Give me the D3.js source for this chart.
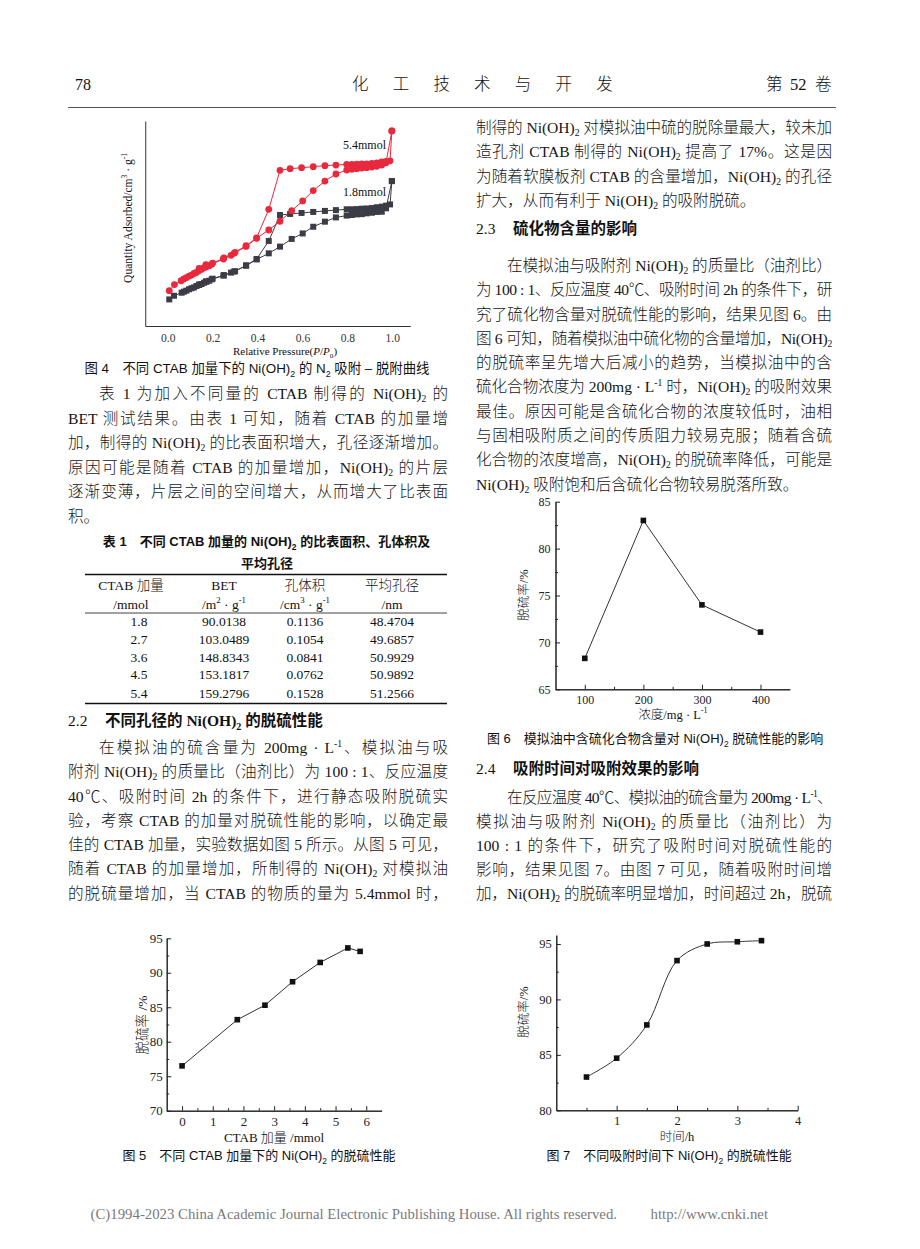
<!DOCTYPE html>
<html><head><meta charset="utf-8">
<script src="https://cdn.jsdelivr.net/npm/d3@7"></script>
<style>
html,body{margin:0;padding:0;background:#fff;}
body{width:920px;height:1249px;position:relative;overflow:hidden;}
.line{position:absolute;font-family:"Liberation Serif","Noto Sans CJK SC",serif;line-height:20px;color:#151515;white-space:nowrap;font-weight:300;}
.line sub{font-size:0.62em;vertical-align:-0.28em;line-height:0;}
.line sup{font-size:0.62em;vertical-align:0.6em;line-height:0;}
svg{position:absolute;left:0;top:0;}
</style></head><body>
<script>
// ---------------- DATA ----------------
// Fig 4: N2 adsorption-desorption isotherms (relative pressure P/P0, quantity adsorbed, arbitrary units)
const f4Ticks = [0, 0.2, 0.4, 0.6, 0.8, 1.0];
const f4RedAdsP = [0.007,0.03,0.06,0.072,0.083,0.095,0.106,0.117,0.128,0.14,0.151,0.162,0.173,0.185,0.196,0.248,0.282,0.295,0.349,0.396,0.45,0.50,0.552,0.601,0.648,0.70,0.749,0.797,0.82,0.842,0.864,0.886,0.909,0.931,0.953,0.972,0.998];
const f4RedAdsQ = [17.4,20.4,22.3,23.2,23.8,24.6,25.1,25.9,26.4,27.3,27.9,28.7,29.2,29.7,30.4,33.0,34.8,35.8,39.2,43.2,47.3,51.6,56.8,61.6,66.7,71.4,74.9,76.8,77.2,77.5,77.8,78.0,78.3,78.7,79.3,80.4,96.1];
const f4RedDesP = [0.998,0.99,0.972,0.953,0.931,0.909,0.886,0.864,0.842,0.82,0.797,0.749,0.70,0.648,0.596,0.545,0.50,0.45,0.396,0.349,0.30,0.25,0.20,0.17,0.14];
const f4RedDesQ = [96.1,81.4,81.1,80.8,80.4,80.1,79.9,79.9,79.8,79.6,79.6,79.3,79.0,78.5,78.0,77.5,76.7,57.5,43.4,39.6,36.3,33.5,31.0,30.2,28.4];
const f4BlkAdsP = [0.007,0.028,0.062,0.072,0.083,0.095,0.106,0.117,0.128,0.14,0.151,0.162,0.173,0.185,0.196,0.248,0.282,0.295,0.349,0.396,0.45,0.50,0.552,0.601,0.648,0.70,0.749,0.797,0.82,0.842,0.864,0.886,0.909,0.931,0.953,0.972,0.998];
const f4BlkAdsQ = [13.1,14.9,16.4,16.9,17.4,18.1,18.6,19.0,19.7,20.2,20.7,21.3,21.8,22.3,23.0,24.8,26.3,26.8,29.7,32.8,35.8,39.1,42.9,45.6,48.9,51.4,53.5,54.4,54.7,55.0,55.1,55.5,55.8,56.2,56.3,58.0,71.4];
const f4BlkDesP = [0.998,0.99,0.972,0.953,0.931,0.909,0.886,0.864,0.842,0.82,0.797,0.749,0.70,0.648,0.596,0.545,0.50,0.45,0.396,0.349,0.30,0.25,0.20,0.17,0.14];
const f4BlkDesQ = [71.4,59.9,59.3,58.8,58.5,58.1,57.9,57.8,57.6,57.5,57.5,57.1,56.7,56.2,55.7,55.2,54.7,41.9,33.0,29.9,27.0,25.1,23.3,22.0,20.5];
const f4SeriesNames = ["5.4mmol", "1.8mmol"];

// Fig 5: CTAB dosage vs desulfurization rate
const f5X = [0, 1.8, 2.7, 3.6, 4.5, 5.4, 5.8];
const f5Y = [76.5, 83.2, 85.3, 88.7, 91.5, 93.6, 93.1];
const f5XTicks = [0,1,2,3,4,5,6];
const f5YTicks = [70,75,80,85,90,95];

// Fig 6: sulfide concentration vs desulfurization rate
const f6X = [100, 200, 300, 400];
const f6Y = [68.3, 83.0, 74.0, 71.1];
const f6XTicks = [100,200,300,400];
const f6YTicks = [65,70,75,80,85];

// Fig 7: adsorption time vs desulfurization rate
const f7X = [0.5, 1, 1.5, 2, 2.5, 3, 3.4];
const f7Y = [83.0, 84.7, 87.7, 93.5, 95.0, 95.2, 95.3];
const f7XTicks = [1,2,3,4];
const f7YTicks = [80,85,90,95];

// Table 1
const tblHead1 = ["CTAB 加量", "BET", "孔体积", "平均孔径"];
const tblHead2 = ["/mmol", "/m^{2} · g^{-1}", "/cm^{3} · g^{-1}", "/nm"];
const tblCTAB = ["1.8","2.7","3.6","4.5","5.4"];
const tblBET  = ["90.0138","103.0489","148.8343","153.1817","159.2796"];
const tblVol  = ["0.1136","0.1054","0.0841","0.0762","0.1528"];
const tblDia  = ["48.4704","49.6857","50.9929","50.9892","51.2566"];

// ---------------- HELPERS ----------------
const SERIF = '"Liberation Serif","Noto Sans CJK SC",serif';
const SANS = '"Liberation Sans","Noto Sans CJK SC",sans-serif';
const BODY_FS = 15.6;

function rich(t, str, fs){
  const parts = str.split(/(_\{[^}]*\}|\^\{[^}]*\}|\*\{[^}]*\})/).filter(s => s.length);
  let shift = 0;
  parts.forEach(p => {
    let s = p, dy = 0, size = null, ital = false;
    if (p.startsWith("_{")) { s = p.slice(2,-1); dy = fs*0.28; size = fs*0.65; }
    else if (p.startsWith("^{")) { s = p.slice(2,-1); dy = -fs*0.42; size = fs*0.65; }
    else if (p.startsWith("*{")) { s = p.slice(2,-1); ital = true; }
    const ts = t.append("tspan").text(s);
    const d = dy - shift;
    if (Math.abs(d) > 1e-6) ts.attr("dy", d.toFixed(2));
    shift = dy;
    if (size) ts.attr("font-size", size.toFixed(2));
    if (ital) ts.attr("font-style", "italic");
  });
}
function svgText(parent, str, x, y, o = {}){
  const fs = o.fs || 13;
  const t = parent.append("text").attr("x", x).attr("y", y)
    .attr("font-family", o.ff || SERIF).attr("font-size", fs)
    .attr("fill", o.fill || "#111").attr("text-anchor", o.anchor || "start")
    .style("white-space", "pre");
  if (o.weight) t.attr("font-weight", o.weight);
  if (o.ls) t.attr("letter-spacing", o.ls);
  if (o.rotate) t.attr("transform", `rotate(-90,${x},${y})`);
  rich(t, str, fs);
  return t;
}
function toHTML(str){
  const esc = s => s.replace(/&/g,"&amp;").replace(/</g,"&lt;").replace(/>/g,"&gt;");
  return str.split(/(_\{[^}]*\}|\^\{[^}]*\})/).filter(s=>s.length).map(p=>{
    if (p.startsWith("_{")) return "<sub>"+esc(p.slice(2,-1))+"</sub>";
    if (p.startsWith("^{")) return "<sup>"+esc(p.slice(2,-1))+"</sup>";
    return esc(p);
  }).join("");
}
function plain(str){ return str.replace(/[_^]\{([^}]*)\}/g, "$1"); }

function addLine(x, cy, w, str, o = {}){
  const fs = o.fs || BODY_FS;
  const ind = o.indent || 0;
  const avail = w - ind;
  const div = d3.select("body").append("div").attr("class","line")
    .style("left", (x+ind)+"px").style("top", (cy - 9.5)+"px")
    .style("width", avail+"px").style("font-size", fs+"px");
  const span = div.append("span").html(toHTML(str));
  if (o.last) return;
  const nat = span.node().getBoundingClientRect().width;
  if (nat <= avail - 0.5) {
    div.style("white-space","normal").style("text-align","justify").style("text-align-last","justify");
  } else {
    const n = [...plain(str)].length;
    span.style("letter-spacing", ((avail - nat)/n).toFixed(3)+"px");
  }
}

// ---------------- SVG ----------------
const svg = d3.select("body").append("svg").attr("width", 920).attr("height", 1249);

// Header
svgText(svg, "78", 75, 89.5, {fs:16, weight:300});
svgText(svg, "化工技术与开发", 352, 89.5, {fs:16.5, ls:24.2, weight:300});
svgText(svg, "第", 766, 89.5, {fs:16.5, weight:300});
svgText(svg, "52", 790, 89.5, {fs:16.5, weight:300});
svgText(svg, "卷", 815, 89.5, {fs:16.5, weight:300});
svg.append("line").attr("x1",68).attr("x2",836).attr("y1",107.5).attr("y2",107.5).attr("stroke","#555").attr("stroke-width",1);

// ---------- Fig 4 ----------
(function(){
  const g = svg.append("g");
  const x = d3.scaleLinear().domain([-0.1, 1.08]).range([145.24, 410.27]);
  const y = d3.scaleLinear().domain([0, 101]).range([326, 121]);
  const ax = g.append("g").attr("transform","translate(0,326)")
    .call(d3.axisBottom(x).tickValues(f4Ticks).tickFormat(d3.format(".1f")).tickSize(0).tickSizeOuter(0).tickPadding(8));
  const ay = g.append("g").attr("transform","translate(145.24,0)")
    .call(d3.axisLeft(y).tickValues([]).tickSizeOuter(0));
  [ax, ay].forEach(a => { a.attr("font-family", SERIF).attr("font-size", 11.5).attr("color", "#333");
    a.select(".domain").attr("stroke-width", 1); });
  const line = d3.line().x(d => x(d[0])).y(d => y(d[1]));
  const series = [
    {P:f4BlkAdsP, Q:f4BlkAdsQ, c:"#3c3c46", sym:"sq"},
    {P:f4BlkDesP, Q:f4BlkDesQ, c:"#3c3c46", sym:"sq"},
    {P:f4RedAdsP, Q:f4RedAdsQ, c:"#e8293d", sym:"ci"},
    {P:f4RedDesP, Q:f4RedDesQ, c:"#e8293d", sym:"ci"}
  ];
  series.forEach(s => {
    const pts = s.P.map((p,i) => [p, s.Q[i]]);
    g.append("path").datum(pts).attr("d", line).attr("fill","none").attr("stroke", s.c).attr("stroke-width", 1);
  });
  series.forEach(s => {
    const pts = s.P.map((p,i) => [p, s.Q[i]]);
    if (s.sym === "ci") {
      g.selectAll(null).data(pts).enter().append("circle")
        .attr("cx", d => x(d[0])).attr("cy", d => y(d[1])).attr("r", 3.4).attr("fill", s.c);
    } else {
      g.selectAll(null).data(pts).enter().append("rect")
        .attr("x", d => x(d[0]) - 3).attr("y", d => y(d[1]) - 3).attr("width", 6).attr("height", 6).attr("fill", s.c);
    }
  });
  svgText(g, f4SeriesNames[0], 343, 149, {fs:12});
  svgText(g, f4SeriesNames[1], 343, 196, {fs:12});
  svgText(g, "Relative Pressure(*{P}/*{P}_{0})", 285, 355, {fs:11, anchor:"middle"});
  svgText(g, "Quantity Adsorbed/cm^{3} · g^{-1}", 131.5, 218, {fs:11.5, anchor:"middle", rotate:true});
})();

// caption fig 4
svgText(svg, "图 4\u2003不同 CTAB 加量下的 Ni(OH)_{2} 的 N_{2} 吸附 – 脱附曲线", 257, 373, {fs:13.4, ff:SANS, anchor:"middle"});

// ---------- generic line chart ----------
function lineChart(o){
  const g = svg.append("g");
  const x = d3.scaleLinear().domain(o.xd).range(o.xr);
  const y = d3.scaleLinear().domain(o.yd).range(o.yr);
  const axes = [];
  axes.push(g.append("g").attr("transform",`translate(0,${o.yr[0]})`)
    .call(d3.axisBottom(x).tickValues(o.xMinor).tickSize(-2.5).tickSizeOuter(0).tickFormat("")));
  axes.push(g.append("g").attr("transform",`translate(0,${o.yr[0]})`)
    .call(d3.axisBottom(x).tickValues(o.xMajor).tickSize(-4.5).tickSizeOuter(0).tickPadding(o.xpad).tickFormat(d3.format("d"))));
  axes.push(g.append("g").attr("transform",`translate(${o.xr[0]},0)`)
    .call(d3.axisLeft(y).tickValues(o.yMinor).tickSize(-2.5).tickSizeOuter(0).tickFormat("")));
  axes.push(g.append("g").attr("transform",`translate(${o.xr[0]},0)`)
    .call(d3.axisLeft(y).tickValues(o.yMajor).tickSize(-4.5).tickSizeOuter(0).tickPadding(o.ypad).tickFormat(d3.format("d"))));
  axes.forEach(a => a.attr("font-family", SERIF).attr("font-size", o.tfs).attr("color", "#222"));
  const pts = o.X.map((v,i) => [v, o.Y[i]]);
  const line = d3.line().x(d => x(d[0])).y(d => y(d[1])).curve(o.curve || d3.curveLinear);
  g.append("path").datum(pts).attr("d", line).attr("fill","none").attr("stroke","#333").attr("stroke-width",1);
  g.selectAll(null).data(pts).enter().append("rect")
    .attr("x", d => x(d[0]) - 2.8).attr("y", d => y(d[1]) - 2.8).attr("width", 5.6).attr("height", 5.6).attr("fill", "#111");
  return g;
}

// ---------- Fig 5 ----------
lineChart({xd:[-0.5,6.5], xr:[166.7,381.6], yd:[70,95], yr:[1110.7,938.3],
  xMajor:f5XTicks, xMinor:[0.5,1.5,2.5,3.5,4.5,5.5], yMajor:f5YTicks, yMinor:[72.5,77.5,82.5,87.5,92.5],
  X:f5X, Y:f5Y, xpad:6.5, ypad:4, tfs:13});
svgText(svg, "CTAB 加量 /mmol", 274, 1142, {fs:13, anchor:"middle", weight:300});
svgText(svg, "脱硫率 /%", 146.8, 1025, {fs:13.5, anchor:"middle", rotate:true, weight:300});
svgText(svg, "图 5\u2003不同 CTAB 加量下的 Ni(OH)_{2} 的脱硫性能", 259, 1160, {fs:13, ff:SANS, anchor:"middle"});

// ---------- Fig 6 ----------
lineChart({xd:[50,450], xr:[555.5,789.8], yd:[65,85], yr:[689.3,501.7],
  xMajor:f6XTicks, xMinor:[150,250,350], yMajor:f6YTicks, yMinor:[67.5,72.5,77.5,82.5],
  X:f6X, Y:f6Y, xpad:6, ypad:5, tfs:12});
svgText(svg, "浓度/mg · L^{-1}", 673, 718.5, {fs:12.5, anchor:"middle", weight:300});
svgText(svg, "脱硫率/%", 527.8, 595, {fs:12.5, anchor:"middle", rotate:true, weight:300});
svgText(svg, "图 6\u2003模拟油中含硫化合物含量对 Ni(OH)_{2} 脱硫性能的影响", 487, 743, {fs:13, ff:SANS});

// ---------- Fig 7 ----------
lineChart({xd:[0,4], xr:[556.3,797.7], yd:[80,95.8], yr:[1110.3,935.1],
  xMajor:f7XTicks, xMinor:[0.5,1.5,2.5,3.5], yMajor:f7YTicks, yMinor:[82.5,87.5,92.5],
  X:f7X, Y:f7Y, xpad:6, ypad:4.6, tfs:12.5, curve:d3.curveCatmullRom.alpha(0.5)});
svgText(svg, "时间/h", 677, 1141, {fs:12.5, anchor:"middle", weight:300});
svgText(svg, "脱硫率/%", 527.8, 1012, {fs:12.5, anchor:"middle", rotate:true, weight:300});
svgText(svg, "图 7\u2003不同吸附时间下 Ni(OH)_{2} 的脱硫性能", 546.5, 1160, {fs:13, ff:SANS});

// ---------- Table 1 ----------
(function(){
  const headX = [131, 224, 305, 392];
  const colX = [139, 224, 305, 392];
  svgText(svg, "表 1\u2003不同 CTAB 加量的 Ni(OH)_{2} 的比表面积、孔体积及", 266.5, 546, {fs:13, ff:SANS, anchor:"middle", weight:700});
  svgText(svg, "平均孔径", 267, 568, {fs:13, ff:SANS, anchor:"middle", weight:700});
  svg.append("line").attr("x1",85).attr("x2",447).attr("y1",574.5).attr("y2",574.5).attr("stroke","#111").attr("stroke-width",1.6);
  svg.append("line").attr("x1",85).attr("x2",447).attr("y1",613).attr("y2",613).attr("stroke","#111").attr("stroke-width",0.8);
  svg.append("line").attr("x1",85).attr("x2",447).attr("y1",703.5).attr("y2",703.5).attr("stroke","#111").attr("stroke-width",1.6);
  tblHead1.forEach((h,i) => svgText(svg, h, headX[i], 590, {fs:13.5, anchor:"middle", weight:300}));
  tblHead2.forEach((h,i) => svgText(svg, h, headX[i], 609, {fs:13.5, anchor:"middle", weight:300}));
  const rowsY = [626, 644, 661.5, 679, 697.5];
  [tblCTAB, tblBET, tblVol, tblDia].forEach((col, ci) => {
    col.forEach((v, ri) => svgText(svg, v, colX[ci], rowsY[ri], {fs:13.5, anchor:"middle"}));
  });
})();

// ---------- Headings ----------
svgText(svg, "2.2", 68, 725.5, {fs:15.5});
svgText(svg, "不同孔径的 Ni(OH)_{2} 的脱硫性能", 105, 725.5, {fs:15.5, weight:700});
svgText(svg, "2.3", 476, 233.5, {fs:15.5});
svgText(svg, "硫化物含量的影响", 513, 233.5, {fs:15.5, weight:700});
svgText(svg, "2.4", 476, 773.5, {fs:15.5});
svgText(svg, "吸附时间对吸附效果的影响", 513, 773.5, {fs:15.5, weight:700});

// Footer
svgText(svg, "(C)1994-2023 China Academic Journal Electronic Publishing House. All rights reserved.", 617, 1219, {fs:14.8, anchor:"end", fill:"#7a7a7a"});
svgText(svg, "http://www.cnki.net", 768, 1219, {fs:14.8, anchor:"end", fill:"#7a7a7a"});

// ---------------- BODY TEXT (HTML, justified) ----------------
const LX = 68, LW = 380, RX = 476, RW = 356;
function para(x, w, lines, ys, indentFirst, lastFull){
  lines.forEach((s,i) => addLine(x, ys[i], w, s, {indent: (i===0 && indentFirst) ? 31 : 0, last: (i === lines.length-1) && !lastFull}));
}
// Left column
para(LX, LW, [
  "表 1 为加入不同量的 CTAB 制得的 Ni(OH)_{2} 的",
  "BET 测试结果。由表 1 可知，随着 CTAB 的加量增",
  "加，制得的 Ni(OH)_{2} 的比表面积增大，孔径逐渐增加。",
  "原因可能是随着 CTAB 的加量增加，Ni(OH)_{2} 的片层",
  "逐渐变薄，片层之间的空间增大，从而增大了比表面",
  "积。"
], [393.5, 418, 442.5, 467, 491.5, 516], true, false);
para(LX, LW, [
  "在模拟油的硫含量为 200mg · L^{-1}、模拟油与吸",
  "附剂 Ni(OH)_{2} 的质量比（油剂比）为 100 : 1、反应温度",
  "40℃、吸附时间 2h 的条件下，进行静态吸附脱硫实",
  "验，考察 CTAB 的加量对脱硫性能的影响，以确定最",
  "佳的 CTAB 加量，实验数据如图 5 所示。从图 5 可见，",
  "随着 CTAB 的加量增加，所制得的 Ni(OH)_{2} 对模拟油",
  "的脱硫量增加，当 CTAB 的物质的量为 5.4mmol 时，"
], [747.5, 771.5, 796, 820, 844.5, 868.5, 893], true, true);
// Right column
para(RX, RW, [
  "制得的 Ni(OH)_{2} 对模拟油中硫的脱除量最大，较未加",
  "造孔剂 CTAB 制得的 Ni(OH)_{2} 提高了 17%。这是因",
  "为随着软膜板剂 CTAB 的含量增加，Ni(OH)_{2} 的孔径",
  "扩大，从而有利于 Ni(OH)_{2} 的吸附脱硫。"
], [127, 151.5, 176, 200.5], false, false);
para(RX, RW, [
  "在模拟油与吸附剂 Ni(OH)_{2} 的质量比（油剂比）",
  "为 100 : 1、反应温度 40℃、吸附时间 2h 的条件下，研",
  "究了硫化物含量对脱硫性能的影响，结果见图 6。由",
  "图 6 可知，随着模拟油中硫化物的含量增加，Ni(OH)_{2}",
  "的脱硫率呈先增大后减小的趋势，当模拟油中的含",
  "硫化合物浓度为 200mg · L^{-1} 时，Ni(OH)_{2} 的吸附效果",
  "最佳。原因可能是含硫化合物的浓度较低时，油相",
  "与固相吸附质之间的传质阻力较易克服；随着含硫",
  "化合物的浓度增高，Ni(OH)_{2} 的脱硫率降低，可能是",
  "Ni(OH)_{2} 吸附饱和后含硫化合物较易脱落所致。"
], [265, 289.5, 314, 338, 362, 386.5, 411, 435, 459.5, 484], true, false);
para(RX, RW, [
  "在反应温度 40℃、模拟油的硫含量为 200mg · L^{-1}、",
  "模拟油与吸附剂 Ni(OH)_{2} 的质量比（油剂比）为",
  "100 : 1 的条件下，研究了吸附时间对脱硫性能的",
  "影响，结果见图 7。由图 7 可见，随着吸附时间增",
  "加，Ni(OH)_{2} 的脱硫率明显增加，时间超过 2h，脱硫"
], [797, 821, 845, 869.5, 893.5], true, true);
</script>
</body></html>
